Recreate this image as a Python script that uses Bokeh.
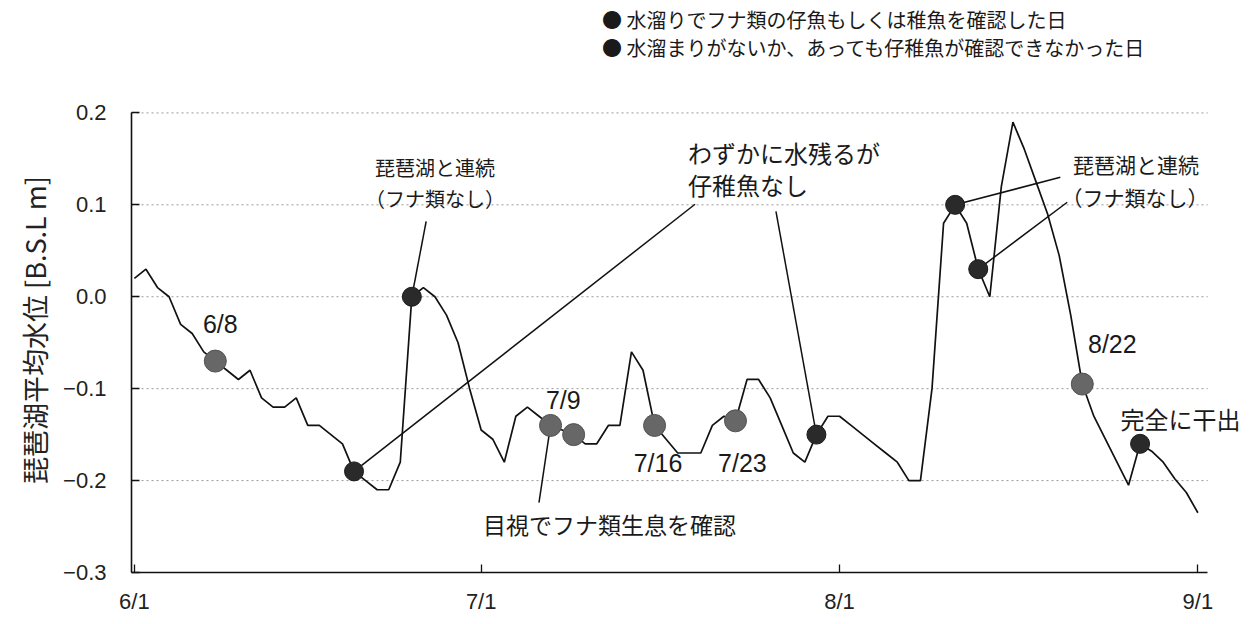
from bokeh.plotting import figure
from bokeh.models import FixedTicker, Label, Range1d
from bokeh.embed import file_html
from bokeh.resources import INLINE
import pandas as pd

# ---------------- data ----------------
start_date = "2001-06-01"
end_date = "2001-09-01"
level = [
    # June
    0.02, 0.03, 0.01, 0.00, -0.03, -0.04, -0.06, -0.07, -0.08, -0.09,
    -0.08, -0.11, -0.12, -0.12, -0.11, -0.14, -0.14, -0.15, -0.16, -0.19,
    -0.20, -0.21, -0.21, -0.18, 0.00, 0.01, 0.00, -0.02, -0.05, -0.10,
    # July
    -0.145, -0.155, -0.18, -0.13, -0.12, -0.13, -0.14, -0.145, -0.15, -0.16,
    -0.16, -0.14, -0.14, -0.06, -0.08, -0.14, -0.155, -0.17, -0.17, -0.17,
    -0.14, -0.13, -0.135, -0.09, -0.09, -0.11, -0.14, -0.17, -0.18, -0.15,
    -0.13,
    # August
    -0.13, -0.14, -0.15, -0.16, -0.17, -0.18, -0.20, -0.20, -0.10, 0.08,
    0.10, 0.08, 0.03, 0.00, 0.12, 0.19, 0.16, 0.125, 0.09, 0.045,
    -0.02, -0.095, -0.13, -0.155, -0.18, -0.205, -0.16, -0.168, -0.18, -0.198,
    -0.213,
    # September
    -0.235,
]
fish_days = ["6/8", "7/7", "7/9", "7/16", "7/23", "8/22"]        # fry confirmed
nofish_days = ["6/20", "6/25", "7/30", "8/11", "8/13", "8/27"]   # no fry
x_tick_labels = ["6/1", "7/1", "8/1", "9/1"]
y_ticks = [-0.3, -0.2, -0.1, 0.0, 0.1, 0.2]
y_tick_labels = ["\u22120.3", "\u22120.2", "\u22120.1", "0.0", "0.1", "0.2"]

legend_texts = ["水溜りでフナ類の仔魚もしくは稚魚を確認した日",
                "水溜まりがないか、あっても仔稚魚が確認できなかった日"]
y_label = "琵琶湖平均水位  [B.S.L m]"

# ---------------- helpers ----------------
start = pd.Timestamp(start_date)
days = pd.date_range(start, end_date)
xs = list(range(len(days)))


def day_index(md):
    m, d = md.split("/")
    return (pd.Timestamp(year=start.year, month=int(m), day=int(d)) - start).days


fx = [day_index(s) for s in fish_days]
fy = [level[i] for i in fx]
nx = [day_index(s) for s in nofish_days]
ny = [level[i] for i in nx]

JP = "Noto Sans CJK JP"
NUM = "Liberation Sans"

X0, X1 = -0.25, 92.85       # drawn axis extent
Y0, Y1 = -0.3, 0.2

p = figure(width=1242, height=616, output_backend="svg", toolbar_location=None,
           x_range=Range1d(X0, 95.86), y_range=Range1d(Y0, 0.3223),
           min_border_left=131, min_border_right=0, min_border_top=0,
           min_border_bottom=41)
p.background_fill_color = "white"
p.border_fill_color = "white"
p.outline_line_color = None

# axes
p.xaxis.ticker = FixedTicker(ticks=[day_index(s) for s in x_tick_labels])
p.xaxis.major_label_overrides = {day_index(s): s for s in x_tick_labels}
p.xaxis.bounds = (X0, X1)
p.yaxis.ticker = FixedTicker(ticks=y_ticks)
p.yaxis.major_label_overrides = dict(zip(y_ticks, y_tick_labels))
p.yaxis.bounds = (Y0, Y1)
for ax in (p.xaxis, p.yaxis):
    ax.axis_line_color = "#111111"
    ax.axis_line_width = 1.6
    ax.major_tick_line_color = "#111111"
    ax.major_tick_line_width = 1.3
    ax.major_tick_in = 8
    ax.major_tick_out = 0
    ax.minor_tick_line_color = None
    ax.major_label_text_font = NUM
    ax.major_label_text_font_size = "22px"
    ax.major_label_text_color = "#222222"
p.xaxis.major_label_standoff = 16
p.yaxis.major_label_standoff = 25
# trailing ideographic spaces shift the centred label down to the axis middle
p.yaxis.axis_label = y_label + "\u3000\u3000\u3000"
p.yaxis.axis_label_text_font = JP
p.yaxis.axis_label_text_font_size = "27px"
p.yaxis.axis_label_text_font_style = "normal"
p.yaxis.axis_label_text_color = "#222222"
p.yaxis.axis_label_standoff = 6

p.xgrid.grid_line_color = None
p.ygrid.grid_line_color = None

# dotted horizontal grid lines, limited to the axis extent
gy = [t for t in y_ticks if t > Y0]
p.segment([X0] * len(gy), gy, [X1] * len(gy), gy, line_color="#9a9a9a",
          line_dash="2 3", line_width=1)

# main line
p.line(xs, level, line_color="#111111", line_width=1.7)

# leader lines (from label position to markers)
lead_x0 = [25.24, 48.5, 55.5, 80.1, 80.7, 35.0]
lead_y0 = [0.082, 0.1006, 0.093, 0.13, 0.1028, -0.224]
lead_x1 = [nx[1], nx[0], nx[2], nx[3], nx[4], fx[1]]
lead_y1 = [ny[1], ny[0], ny[2], ny[3], ny[4], fy[1]]
p.segment(lead_x0, lead_y0, lead_x1, lead_y1, line_color="#111111", line_width=1.5)

# markers
p.scatter(fx, fy, marker="circle", size=22, fill_color="#676767",
          line_color="#525252", line_width=1)
p.scatter(nx, ny, marker="circle", size=19, fill_color="#2a2a2a",
          line_color="#1a1a1a", line_width=1)


def lab(x, y, t, size="20px", align="center", font=JP):
    p.add_layout(Label(x=x, y=y, text=t, text_font=font, text_font_size=size,
                       text_align=align, text_baseline="middle",
                       text_color="#1a1a1a"))


# legend (above the plot area)
lab(40.46, 0.3017, "● " + legend_texts[0], size="20px", align="left")
lab(40.46, 0.2714, "● " + legend_texts[1], size="20px", align="left")

# annotations
lab(7.43, -0.030, "6/8", size="25px", font=NUM)
lab(37.1, -0.1126, "7/9", size="25px", font=NUM)
lab(45.3, -0.181, "7/16", size="25px", font=NUM)
lab(52.6, -0.181, "7/23", size="25px", font=NUM)
lab(84.6, -0.051, "8/22", size="25px", font=NUM)
lab(26.0, 0.1407, "琵琶湖と連続", size="20px")
lab(26.0, 0.107, "（フナ類なし）", size="20px")
lab(47.9, 0.157, "わずかに水残るが", size="24px", align="left")
lab(47.9, 0.122, "仔稚魚なし", size="24px", align="left")
lab(81.2, 0.144, "琵琶湖と連続", size="21px", align="left")
lab(80.2, 0.108, "（フナ類なし）", size="21px", align="left")
lab(90.5, -0.132, "完全に干出", size="24px")
lab(41.1, -0.247, "目視でフナ類生息を確認", size="23px")

open("out.html", "w").write(file_html(p, INLINE))
